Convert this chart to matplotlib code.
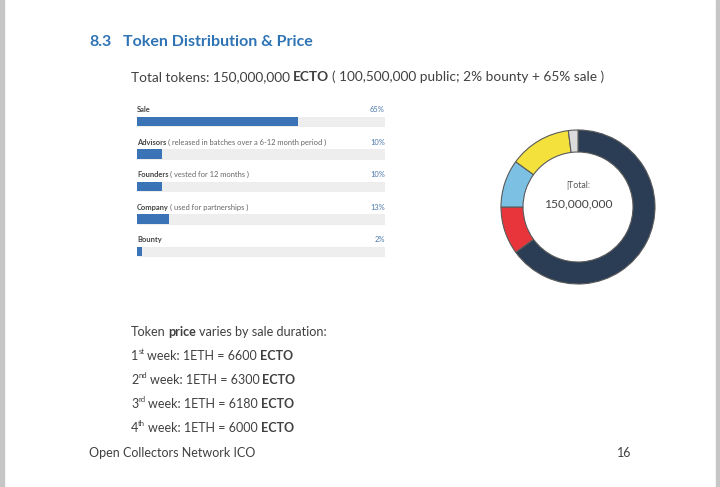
import matplotlib
matplotlib.use("Agg")
import matplotlib.pyplot as plt
from matplotlib.patches import Rectangle

# data
categories = ["Sale", "Advisors", "Founders", "Company", "Bounty"]
notes = ["", "( released in batches over a 6-12 month period )",
         "( vested for 12 months )", "( used for partnerships )", ""]
shares = [65, 10, 10, 13, 2]
ring_colors = ["#2a3d55", "#e8353c", "#7cc1e4", "#f4e13c", "#dcdcdc"]
total_label = "150,000,000"
week_rates = [6600, 6300, 6180, 6000]
week_sups = ["st", "nd", "rd", "th"]

BODY = "Lato"
TXT = "#404040"

fig = plt.figure(figsize=(7.2, 4.87), dpi=100)
page = fig.add_axes([0, 0, 1, 1])
page.set_xlim(0, 720)
page.set_ylim(487, 0)
page.axis("off")
# grey page edges
page.add_patch(Rectangle((0, 0), 4, 487, color="#c6c6c6"))
page.add_patch(Rectangle((716, 0), 4, 487, color="#c6c6c6"))

renderer = fig.canvas.get_renderer()


def width_of(t):
    return t.get_window_extent(renderer).width


def runs(x, y, parts, size):
    # parts: (text, weight, is_sup)
    probe = page.text(0, 0, "x x", fontsize=size, family=BODY)
    probe2 = page.text(0, 0, "xx", fontsize=size, family=BODY)
    space = (width_of(probe) - width_of(probe2)) * 0.9
    probe.remove()
    probe2.remove()
    for txt, weight, sup in parts:
        lead = len(txt) - len(txt.lstrip(" "))
        x += lead * space
        body = txt.strip(" ")
        if sup:
            t = page.text(x, y - 4, body, fontsize=size * 0.62, family=BODY,
                          color=TXT, va="center", ha="left")
        else:
            t = page.text(x, y, body, fontsize=size, family=BODY, color=TXT,
                          weight=weight, va="center", ha="left")
        x += width_of(t)
        trail = len(txt) - len(txt.rstrip(" "))
        x += trail * space


page.text(89, 42, "8.3", fontsize=11.5, family=BODY, weight="bold",
          color="#2e74b5", va="center")
page.text(123, 42, "Token Distribution & Price", fontsize=11.5, family=BODY,
          weight="bold", color="#2e74b5", va="center")

runs(131, 77, [("Total tokens: 150,000,000 ", "normal", False),
               ("ECTO", "bold", False),
               (" ( 100,500,000 public; 2% bounty + 65% sale )", "normal", False)],
     9.8)

runs(131, 332, [("Token ", "normal", False), ("price", "bold", False),
                (" varies by sale duration:", "normal", False)], 9.1)
for i, (rate, sup) in enumerate(zip(week_rates, week_sups)):
    runs(131, 356 + 24 * i, [(str(i + 1), "normal", False), (sup, "normal", True),
                             (" week: 1ETH = %d " % rate, "normal", False),
                             ("ECTO", "bold", False)], 9.0)

page.text(89, 453, "Open Collectors Network ICO", fontsize=9.0, family=BODY,
          color=TXT, va="center")
page.text(631, 453, "16", fontsize=9.0, family=BODY, color=TXT, va="center",
          ha="right")

# progress bars
W, H = 720.0, 487.0
bx0, bx1, by0, by1 = 137, 385, 100, 262
ax = fig.add_axes([bx0 / W, 1 - by1 / H, (bx1 - bx0) / W, (by1 - by0) / H])
ax.set_xlim(0, 100)
ax.set_ylim((by1 - 121.5) / 32.5, (by0 - 121.5) / 32.5)
ax.axis("off")
rows = list(range(len(categories)))
ax.barh(rows, [100] * len(rows), height=0.28, color="#eeeeee",
        edgecolor="#e6e6e6", linewidth=0.4)
ax.barh(rows, shares, height=0.28, color="#3a74b6")
for i, (cat, note, v) in enumerate(zip(categories, notes, shares)):
    t = ax.text(0, i - 0.36, cat, fontsize=5.4, family=BODY, weight="bold",
                color="#444444", va="center", ha="left")
    if note:
        ext = t.get_window_extent(renderer)
        px = ext.x1 + 1.5
        xd = ax.transData.inverted().transform((px, 0))[0]
        ax.text(xd, i - 0.36, note, fontsize=5.4, family=BODY, color="#666666",
                va="center", ha="left")
    ax.text(100, i - 0.36, "%d%%" % v, fontsize=5.4, family=BODY,
            color="#4a77aa", va="center", ha="right")

# donut
cx, cy, box = 578, 207, 170
dx = fig.add_axes([(cx - box / 2) / W, 1 - (cy + box / 2) / H, box / W, box / H])
dx.pie(shares, colors=ring_colors, startangle=90, counterclock=False,
       radius=77 / (box / 2),
       wedgeprops=dict(width=22 / (box / 2), edgecolor="#5a5a5a", linewidth=0.8))
dx.set_xlim(-1, 1)
dx.set_ylim(-1, 1)
dx.set_aspect("equal")
dx.text(0, 22 / (box / 2), "|Total:", fontsize=6.3, family=BODY,
        color="#555555", ha="center", va="center")
dx.text(0, 3 / (box / 2), total_label, fontsize=8.7, family=BODY,
        color="#444444", ha="center", va="center")

fig.savefig("out.png", dpi=100)
